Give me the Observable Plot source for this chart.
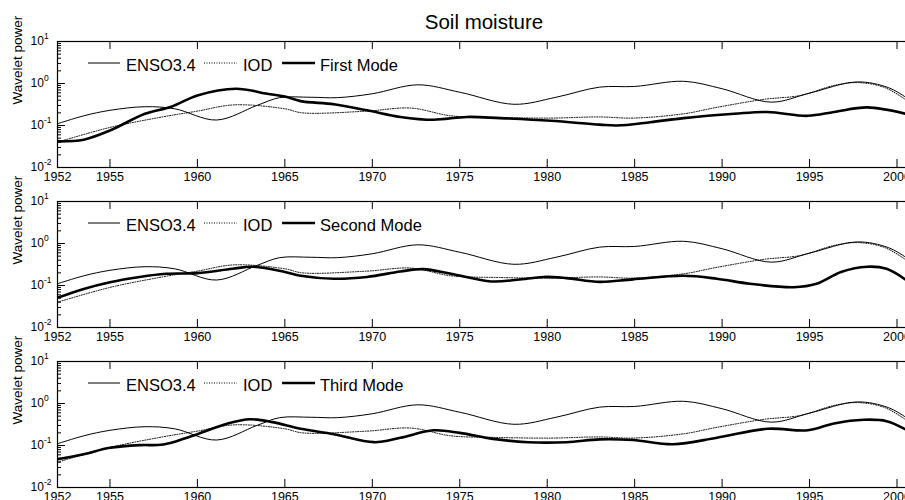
<!DOCTYPE html>
<html><head><meta charset="utf-8">
<script src="https://cdn.jsdelivr.net/npm/d3@7"></script>
<script src="https://cdn.jsdelivr.net/npm/@observablehq/plot@0.6"></script>
<style>
html,body{margin:0;padding:0;overflow:hidden;background:#fff;width:905px;height:500px;}
#chart{position:relative;width:905px;height:500px;font-family:"Liberation Sans",Arial,sans-serif;}
</style></head><body><div id="chart"></div>
<script>
const title = "Soil moisture";
const yLabel = "Wavelet power";
const ensoName = "ENSO3.4";
const iodName = "IOD";
const modeNames = ["First Mode", "Second Mode", "Third Mode"];
const xTicks = [1952, 1955, 1960, 1965, 1970, 1975, 1980, 1985, 1990, 1995, 2000];
const yTicks = [10, 1, 0.1, 0.01];
const yTickBase = "10";
const yTickExps = ["1", "0", "-1", "-2"];

const ensoYears  = [1952, 1953.5, 1955, 1957, 1958.7, 1961.1, 1963.4, 1964.7, 1966.5, 1968, 1970, 1972.6, 1975, 1978.1, 1980.5, 1983, 1985, 1987.8, 1990, 1992.8, 1995, 1997.7, 1999.5, 2000.5];
const ensoValues = [0.11, 0.17, 0.23, 0.28, 0.25, 0.135, 0.3, 0.46, 0.47, 0.46, 0.57, 0.93, 0.62, 0.32, 0.47, 0.82, 0.85, 1.13, 0.75, 0.36, 0.59, 1.09, 0.8, 0.47];

const iodYears  = [1952, 1955, 1958, 1960, 1962.1, 1965, 1966, 1969.7, 1972.2, 1974.5, 1977.3, 1980.2, 1983, 1984.9, 1987.8, 1989.7, 1992.4, 1994.5, 1996.4, 1997.8, 1999.3, 2000.5];
const iodValues = [0.04, 0.09, 0.16, 0.22, 0.31, 0.25, 0.2, 0.22, 0.26, 0.17, 0.155, 0.15, 0.16, 0.15, 0.19, 0.27, 0.42, 0.52, 0.9, 1.05, 0.8, 0.41];

const mode1Years  = [1952, 1953.5, 1955, 1957, 1958.5, 1960, 1962.2, 1964, 1965, 1965.9, 1967.8, 1969.7, 1971.6, 1973.5, 1975.4, 1977.3, 1980.2, 1983, 1984, 1985.9, 1987.8, 1990.7, 1992.6, 1994.9, 1996.4, 1998.3, 2000.5];
const mode1Values = [0.042, 0.046, 0.076, 0.19, 0.28, 0.52, 0.75, 0.57, 0.49, 0.38, 0.32, 0.23, 0.16, 0.137, 0.16, 0.15, 0.13, 0.105, 0.1, 0.12, 0.15, 0.19, 0.21, 0.17, 0.21, 0.27, 0.19];

const mode2Years  = [1952, 1953.5, 1955, 1956.7, 1958.2, 1960, 1962, 1963.2, 1965, 1965.9, 1967.8, 1969.7, 1971.6, 1972.9, 1974.5, 1976.8, 1978.3, 1979.8, 1981.1, 1983, 1984.9, 1987.8, 1989.7, 1991.6, 1994.1, 1995.4, 1996.8, 1998.3, 1999.4, 2000.5];
const mode2Values = [0.051, 0.083, 0.12, 0.16, 0.19, 0.197, 0.25, 0.28, 0.21, 0.17, 0.145, 0.16, 0.215, 0.245, 0.19, 0.125, 0.137, 0.16, 0.15, 0.122, 0.14, 0.17, 0.145, 0.11, 0.091, 0.11, 0.21, 0.28, 0.25, 0.137];

const mode3Years  = [1952, 1953.5, 1955, 1956.7, 1957.9, 1958.8, 1960, 1961.7, 1963, 1964.3, 1965.9, 1967.8, 1970.1, 1971.6, 1973.5, 1975, 1976.9, 1978.9, 1981.1, 1983, 1984.9, 1987.2, 1989.7, 1992.6, 1994.9, 1996.4, 1998.1, 1999.4, 2000.5];
const mode3Values = [0.047, 0.062, 0.088, 0.102, 0.104, 0.127, 0.186, 0.33, 0.42, 0.36, 0.25, 0.186, 0.12, 0.153, 0.23, 0.2, 0.144, 0.12, 0.12, 0.14, 0.135, 0.107, 0.153, 0.25, 0.23, 0.335, 0.41, 0.38, 0.24];

const modeYears = [mode1Years, mode2Years, mode3Years];
const modeValues = [mode1Values, mode2Values, mode3Values];

// minor log ticks
const yMinor = [];
for (const dec of [0.01, 0.1, 1]) for (let k = 2; k <= 9; k++) yMinor.push(+(dec * k).toPrecision(3));

const FONT = '"Liberation Sans", Arial, sans-serif';
const W = 915, H = 200, ML = 57, MR = 1, MT = 41, MB = 33;
const plotW = W - ML - MR, plotH = H - MT - MB;
const toRows = (xs, vs) => xs.map((x, j) => ({year: x, value: vs[j]}));

const chart = document.getElementById("chart");

for (let i = 0; i < 3; i++) {
  const p = Plot.plot({
    width: W, height: H,
    marginLeft: ML, marginRight: MR, marginTop: MT, marginBottom: MB,
    x: {domain: [1952, 2001], axis: null, label: null},
    y: {type: "log", domain: [0.01, 10], axis: null, label: null},
    style: {background: "transparent", overflow: "visible", maxWidth: "none", fontFamily: FONT, fontSize: "12.5px", color: "black"},
    marks: [
      Plot.line(toRows(ensoYears, ensoValues), {x: "year", y: "value", stroke: "black", strokeWidth: 1, curve: "catmull-rom", clip: true}),
      Plot.line(toRows(iodYears, iodValues), {x: "year", y: "value", stroke: "black", strokeWidth: 1, strokeDasharray: "1,1.5", curve: "catmull-rom", clip: true}),
      Plot.line(toRows(modeYears[i], modeValues[i]), {x: "year", y: "value", stroke: "black", strokeWidth: 2.6, curve: "catmull-rom", clip: true}),
      Plot.frame({stroke: "black", strokeWidth: 1.2}),
      Plot.tickX(xTicks, {x: d => d, insetTop: plotH - 8, stroke: "black"}),
      Plot.tickX(xTicks, {x: d => d, insetBottom: plotH - 8, stroke: "black"}),
      Plot.tickY(yTicks, {y: d => d, insetRight: plotW - 8, stroke: "black"}),
      Plot.tickY(yTicks, {y: d => d, insetLeft: plotW - 8, stroke: "black"}),
      Plot.tickY(yMinor, {y: d => d, insetRight: plotW - 4, stroke: "black"}),
      Plot.tickY(yMinor, {y: d => d, insetLeft: plotW - 4, stroke: "black"}),
      Plot.axisX(xTicks, {anchor: "bottom", tickSize: 0, tickPadding: 5, tickFormat: d => String(d), fontSize: 12.5, label: null}),
      Plot.text(yTicks, {y: d => d, text: () => yTickBase, frameAnchor: "left", textAnchor: "start", dx: -27, fontSize: 12}),
      Plot.text(yTicks, {y: d => d, text: (d, j) => yTickExps[j], frameAnchor: "left", textAnchor: "start", dx: -13.5, dy: -5, fontSize: 8.5}),
      Plot.text([yLabel], {frameAnchor: "left", rotate: -90, dx: -40, fontSize: 13.5}),
      i === 0 ? Plot.text([title], {frameAnchor: "top", lineAnchor: "bottom", dx: -2, dy: -13, fontSize: 20.5}) : null
    ]
  });
  p.style.position = "absolute";
  p.style.left = "0px";
  p.style.top = (160 * i) + "px";
  chart.appendChild(p);

  // legend (inside the panel, no box)
  const cy = 12;
  const lg = d3.select(chart).append("svg")
    .attr("width", 520).attr("height", 26)
    .style("position", "absolute").style("left", "0px").style("top", (160 * i + 63 - cy) + "px")
    .style("overflow", "visible");
  const items = [
    {x1: 88, x2: 120, w: 1, dash: null, tx: 126, label: ensoName},
    {x1: 204, x2: 237, w: 1, dash: "1,1.5", tx: 243, label: iodName},
    {x1: 282, x2: 315, w: 2.6, dash: null, tx: 320, label: modeNames[i]}
  ];
  for (const it of items) {
    lg.append("line").attr("x1", it.x1).attr("x2", it.x2).attr("y1", cy).attr("y2", cy)
      .attr("stroke", "black").attr("stroke-width", it.w).attr("stroke-dasharray", it.dash);
    lg.append("text").attr("x", it.tx).attr("y", cy + 7.6).attr("font-family", FONT).attr("font-size", 16.5)
      .attr("fill", "black").text(it.label);
  }
}
</script></body></html>
